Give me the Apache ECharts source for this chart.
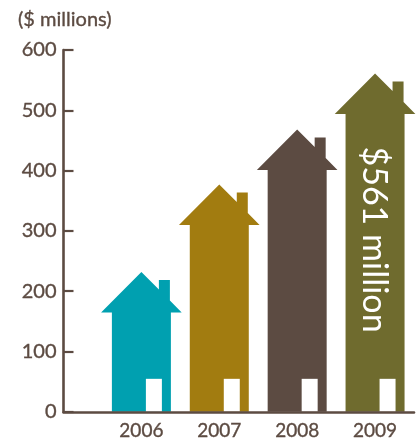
<!DOCTYPE html>
<html>
<head>
<meta charset="utf-8">
<style>
  html, body { margin: 0; padding: 0; background: #fff; }
  #chart { width: 417px; height: 441px; }
</style>
<script src="https://cdn.jsdelivr.net/npm/echarts@6/dist/echarts.min.js"></script>
</head>
<body>
<div id="chart"></div>
<script>
  // Fund totals per year, in $ millions
  const years = [2006, 2007, 2008, 2009];
  const totals = [232, 377, 468, 561];
  const houseColors = ['#00a0b0', '#a27c10', '#5c4b42', '#6f6b2e'];
  const unitLabel = '($ millions)';
  const highlightedYear = 2009;

  const INK = '#5c4b42';
  const FONT = 'Lato, "Open Sans", sans-serif';
  // Slight outline so the axis text carries a little more weight
  const INK_TEXT = { color: INK, fontFamily: FONT, textBorderColor: INK, textBorderWidth: 0.35 };

  // House outline, in pixels relative to the roof apex
  const BODY_HALF = 29.5, EAVE_HALF = 40.3, EAVE_DROP = 40.5;
  const CHIMNEY = { left: 17.5, right: 28.5, top: 8 };
  const DOOR = { left: 4.5, right: 20.5, height: 33 };

  function drawHouse(params, api) {
    const year = api.value(0), value = api.value(1);
    const [cx, apex] = api.coord([year, value]);
    const base = api.coord([year, 0])[1];
    const fill = api.visual('color');
    const eave = apex + EAVE_DROP;

    const children = [
      {
        type: 'polygon',
        shape: { points: [
          [cx, apex],
          [cx + CHIMNEY.left, apex + CHIMNEY.left],
          [cx + CHIMNEY.left, apex + CHIMNEY.top],
          [cx + CHIMNEY.right, apex + CHIMNEY.top],
          [cx + CHIMNEY.right, apex + CHIMNEY.right],
          [cx + EAVE_HALF, eave],
          [cx + BODY_HALF, eave],
          [cx + BODY_HALF, base],
          [cx - BODY_HALF, base],
          [cx - BODY_HALF, eave],
          [cx - EAVE_HALF, eave]
        ] },
        style: { fill }
      },
      {
        type: 'rect',
        shape: { x: cx + DOOR.left, y: base - DOOR.height, width: DOOR.right - DOOR.left, height: DOOR.height },
        style: { fill: '#fff' }
      }
    ];

    if (year === highlightedYear) {
      children.push({
        type: 'text',
        x: cx - 1,
        y: apex + 166,
        rotation: -Math.PI / 2,
        style: {
          text: '$' + value + ' million',
          fill: '#fff',
          font: '34px ' + FONT,
          align: 'center',
          verticalAlign: 'middle'
        }
      });
    }
    return { type: 'group', children };
  }

  const chart = echarts.init(document.getElementById('chart'), null, { renderer: 'canvas' });
  chart.setOption({
    animation: false,
    backgroundColor: '#fff',
    title: {
      text: unitLabel,
      left: 13,
      top: 5,
      textStyle: { ...INK_TEXT, fontWeight: 'normal', fontSize: 20 }
    },
    grid: { left: 63.5, right: 3, top: 50, bottom: 28 },
    xAxis: {
      type: 'value',
      min: 2005,
      max: 2009.5,
      interval: 1,
      z: 3,
      splitLine: { show: false },
      axisTick: { show: false },
      axisLine: { show: true, lineStyle: { color: INK, width: 2.6 } },
      axisLabel: {
        ...INK_TEXT,
        fontSize: 19,
        margin: 10,
        formatter: v => (years.includes(v) ? String(v) : '')
      }
    },
    yAxis: {
      type: 'value',
      min: 0,
      max: 600,
      interval: 100,
      z: 3,
      splitLine: { show: false },
      axisLine: { show: true, lineStyle: { color: INK, width: 2.6 } },
      axisTick: { show: true, inside: true, length: 10, lineStyle: { color: INK, width: 2.2 } },
      axisLabel: { ...INK_TEXT, fontSize: 20, margin: 7, padding: [0, 0, 3, 0] }
    },
    series: [{
      type: 'custom',
      clip: false,
      renderItem: drawHouse,
      encode: { x: 0, y: 1 },
      data: years.map((year, i) => ({
        value: [year, totals[i]],
        itemStyle: { color: houseColors[i] }
      }))
    }]
  });
</script>
</body>
</html>
